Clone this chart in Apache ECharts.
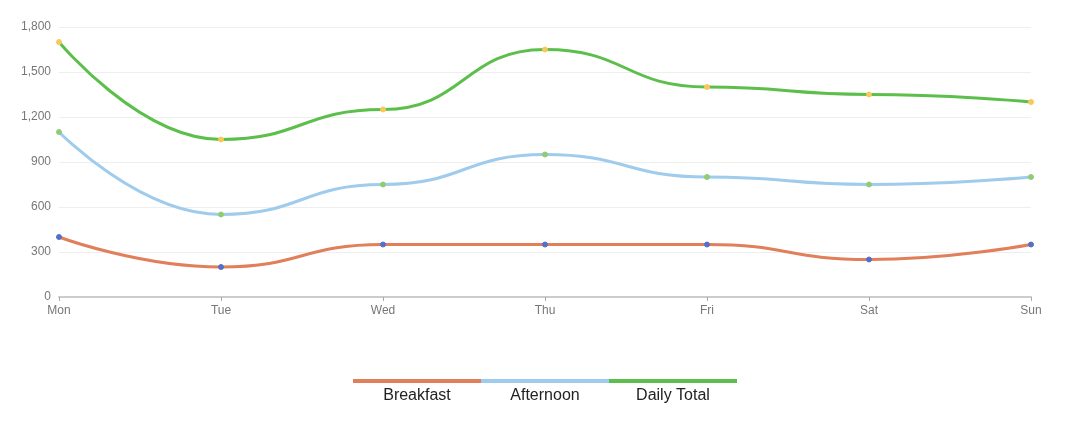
<!DOCTYPE html>
<html><head><meta charset="utf-8">
<script src="https://cdn.jsdelivr.net/npm/echarts@6/dist/echarts.min.js"></script>
<style>html,body{margin:0;padding:0;background:#fff}#c{width:1076px;height:422px}</style>
</head><body><div id="c"></div>
<script>
const categories = ['Mon','Tue','Wed','Thu','Fri','Sat','Sun'];
const breakfast = [400,200,350,350,350,250,350];
const afternoon = [1100,550,750,950,800,750,800];
const dailyTotal = [1700,1050,1250,1650,1400,1350,1300];
const seriesNames = ['Breakfast','Afternoon','Daily Total'];
const lineColors = ['#e07f5a','#9fcbec','#5dbf4b'];
const markerColors = ['#5470c6','#91cc75','#fac858'];
const seriesData = [breakfast, afternoon, dailyTotal];

const chart = echarts.init(document.getElementById('c'));
const font = 'Liberation Sans, Arial, sans-serif';
const legendX0 = 353, legendW = 128, legendY = 381;
chart.setOption({
  animation:false,
  textStyle:{fontFamily:font},
  grid:{left:59,right:45,top:27,bottom:125},
  xAxis:{type:'category',data:categories,boundaryGap:false,
    axisLine:{lineStyle:{color:'#ccc',width:2}},
    axisTick:{lineStyle:{color:'#aaa'},length:4},
    axisLabel:{color:'#777',fontSize:12,margin:8,fontFamily:font}},
  yAxis:{type:'value',min:0,max:1800,interval:300,
    axisLine:{show:false},axisTick:{show:false},
    splitLine:{lineStyle:{color:'#eee'}},
    axisLabel:{color:'#777',fontSize:12,margin:8,fontFamily:font,
      formatter:v=>v.toLocaleString('en-US')}},
  legend:{show:false},
  series: seriesNames.map((n,i)=>({
    name:n,type:'line',data:seriesData[i],smooth:true,smoothMonotone:'x',
    symbol:'circle',symbolSize:5,showSymbol:true,
    lineStyle:{color:lineColors[i],width:3},
    itemStyle:{color:markerColors[i],borderColor:markerColors[i]}
  })),
  graphic: seriesNames.flatMap((n,i)=>[
    {type:'line',shape:{x1:legendX0+i*legendW,y1:legendY,x2:legendX0+(i+1)*legendW,y2:legendY},
      style:{stroke:lineColors[i],lineWidth:4}},
    {type:'text',x:legendX0+i*legendW+legendW/2,y:396,
      style:{text:n,fill:'#222',font:'16px '+font,textAlign:'center',textVerticalAlign:'middle'}}
  ])
});
</script></body></html>
